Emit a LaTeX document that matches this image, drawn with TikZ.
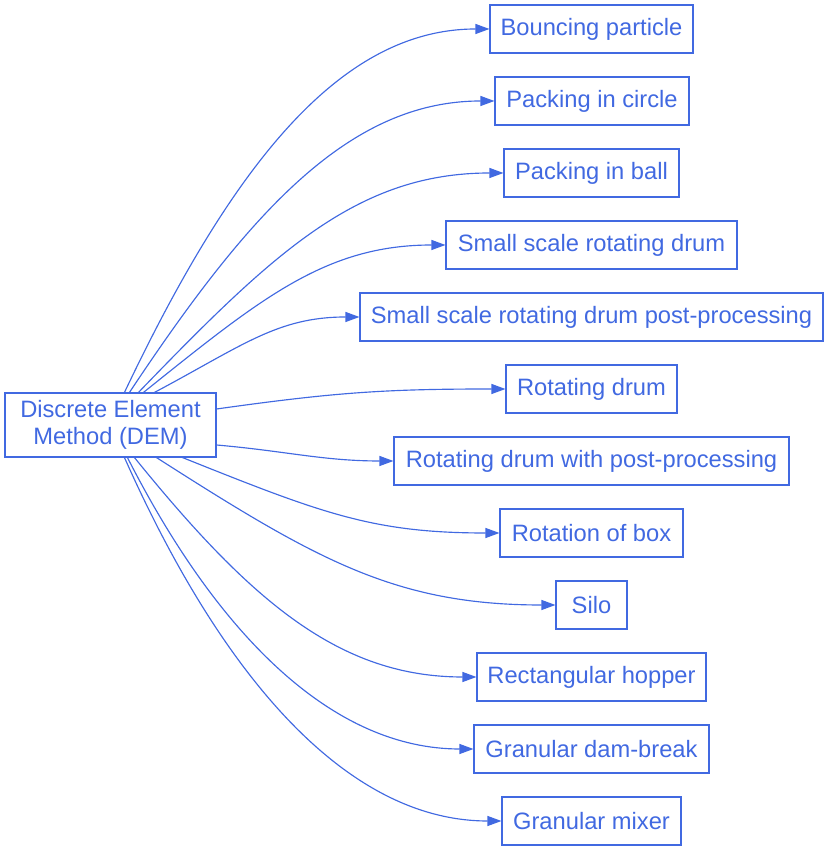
\documentclass[tikz,border=0pt]{standalone}
\usepackage{fontspec}
\setmainfont{Liberation Sans}
\usetikzlibrary{arrows.meta}
\definecolor{rb}{HTML}{4169E1}
\begin{document}
\begin{tikzpicture}[x=1pt,y=1pt,
 box/.style={draw=rb, text=rb, line width=1.1pt, minimum height=48pt, inner xsep=4pt, font=\fontsize{23.7}{27}\selectfont},
 edge/.style={draw=rb, line width=1.15pt, -{Triangle[length=14pt,width=10pt]}}]
\useasboundingbox (0,0) rectangle (829,851);
\node[box, minimum width=211, minimum height=64, align=center] (dem) at (110.5,426) {Discrete Element\\Method (DEM)};
\node[box, minimum width=203] (bp) at (591.5,822) {Bouncing particle};
\node[box, minimum width=194] (pc) at (592,750) {Packing in circle};
\node[box, minimum width=175] (pb) at (591.5,678) {Packing in ball};
\node[box, minimum width=291] (ss) at (591.5,606) {Small scale rotating drum};
\node[box, minimum width=463] (sspp) at (591.5,534) {Small scale rotating drum post-processing};
\node[box, minimum width=171] (rd) at (591.5,462) {Rotating drum};
\node[box, minimum width=395] (rdpp) at (591.5,390) {Rotating drum with post-processing};
\node[box, minimum width=183] (rob) at (591.5,318) {Rotation of box};
\node[box, minimum width=71] (silo) at (591.5,246) {Silo};
\node[box, minimum width=229] (hop) at (591.5,174) {Rectangular hopper};
\node[box, minimum width=235] (dam) at (591.5,102) {Granular dam-break};
\node[box, minimum width=179] (mix) at (591.5,30) {Granular mixer};
\draw[edge] ([xshift=120]dem.north west) .. controls +(64.6:250) and +(180:150) .. (bp.west);
\draw[edge] ([xshift=125]dem.north west) .. controls +(56.4:215) and +(180:146) .. (pc.west);
\draw[edge] ([xshift=134]dem.north west) .. controls +(46:195) and +(180:146) .. (pb.west);
\draw[edge] ([xshift=139]dem.north west) .. controls +(38.7:150) and +(180:120) .. (ss.west);
\draw[edge] ([xshift=150]dem.north west) .. controls +(28:100) and +(180:82) .. (sspp.west);
\draw[edge] ([yshift=16]dem.east) .. controls +(8:120) and +(180:120) .. (rd.west);
\draw[edge] ([yshift=-20]dem.east) .. controls +(-5:70) and +(180:70) .. (rdpp.west);
\draw[edge] ([xshift=178]dem.south west) .. controls +(-21.8:150) and +(180:127) .. (rob.west);
\draw[edge] ([xshift=152]dem.south west) .. controls +(-32.6:190) and +(180:160) .. (silo.west);
\draw[edge] ([xshift=130]dem.south west) .. controls +(-51:185) and +(180:137) .. (hop.west);
\draw[edge] ([xshift=123]dem.south west) .. controls +(-63:205) and +(180:138) .. (dam.west);
\draw[edge] ([xshift=120]dem.south west) .. controls +(-66:250) and +(180:150) .. (mix.west);
\end{tikzpicture}
\end{document}
